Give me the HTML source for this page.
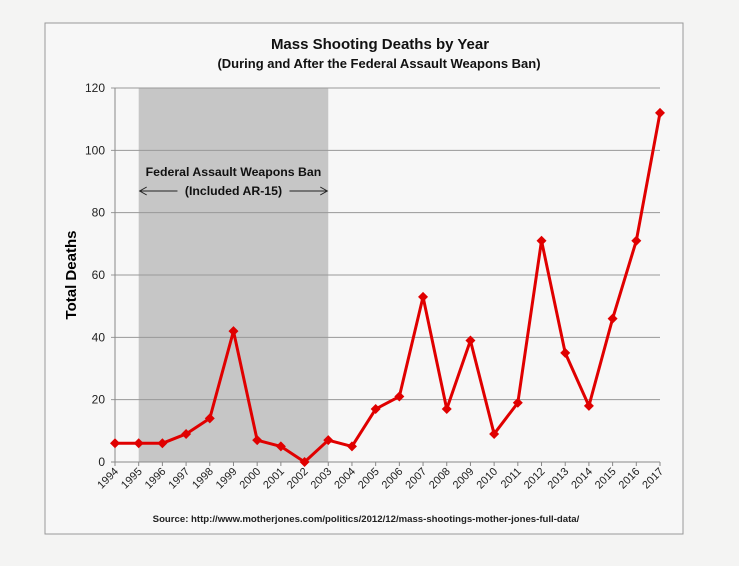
<!DOCTYPE html>
<html><head><meta charset="utf-8"><style>
body{margin:0;background:#f4f4f3;}
svg{display:block;font-family:"Liberation Sans Narrow","Liberation Sans",sans-serif;}
</style></head><body>
<svg width="739" height="566" viewBox="0 0 739 566">
<rect x="45" y="23" width="638" height="511" fill="#f7f7f7" stroke="#999" stroke-width="1"/>
<text x="380" y="49" text-anchor="middle" font-size="15" font-weight="bold" fill="#111">Mass Shooting Deaths by Year</text>
<text x="379" y="68" text-anchor="middle" font-size="13" font-weight="bold" fill="#111">(During and  After the Federal Assault Weapons  Ban)</text>
<g id="plot"></g>
<text transform="translate(76,275) rotate(-90)" text-anchor="middle" font-size="15" font-weight="bold" fill="#000">Total Deaths</text>
<text x="366" y="522" text-anchor="middle" font-size="9.6" font-weight="bold" fill="#222">Source:  http://www.motherjones.com/politics/2012/12/mass-shootings-mother-jones-full-data/</text>
</svg>
<script>
const years=[1994,1995,1996,1997,1998,1999,2000,2001,2002,2003,2004,2005,2006,2007,2008,2009,2010,2011,2012,2013,2014,2015,2016,2017];
const deaths=[6,6,6,9,14,42,7,5,0,7,5,17,21,53,17,39,9,19,71,35,18,46,71,112];
const yTicks=[0,20,40,60,80,100,120];
const banStart=1995, banEnd=2003;
const NS="http://www.w3.org/2000/svg";
const g=document.getElementById('plot');
const x0=115,x1=660,y0=462,y1=88;
const xs=i=>x0+i*(x1-x0)/(years.length-1);
const xy=yr=>xs(years.indexOf(yr));
const ys=v=>y0-(v/120)*(y0-y1);
function mk(t,a){const e=document.createElementNS(NS,t);for(const k in a)e.setAttribute(k,a[k]);g.appendChild(e);return e;}
let r=mk('rect',{x:xy(banStart),y:y1,width:xy(banEnd)-xy(banStart),height:y0-y1,fill:'#c6c6c6'});


yTicks.forEach(v=>{
 let l=mk('line',{x1:x0-4,x2:x1,y1:ys(v),y2:ys(v),stroke:v===0?'#888':'#999','stroke-width':1});
 
 
 let t=mk('text',{x:x0-10,y:ys(v)+4,'text-anchor':'end','font-size':12,fill:'#222'});
 t.textContent=v;
 
 
});
let ax=mk('line',{x1:x0,x2:x0,y1:y1,y2:y0,stroke:'#888'});


years.forEach((yr,i)=>{
 let tk=mk('line',{x1:xs(i),x2:xs(i),y1:y0,y2:y0+4,stroke:'#888'});
 
 
 let t=mk('text',{x:0,y:0,'text-anchor':'end','font-size':11,fill:'#222',transform:`translate(${xs(i)+4},${y0+10}) rotate(-45)`});
 t.textContent=yr;
 
 
});
let pts=deaths.map((v,i)=>xs(i)+','+ys(v)).join(' ');
let pl=mk('polyline',{points:pts,fill:'none',stroke:'#e00000','stroke-width':3,'stroke-linejoin':'round'});


deaths.forEach((v,i)=>{
 const cx=xs(i),cy=ys(v);
 let m=mk('polygon',{points:`${cx},${cy-5} ${cx+5},${cy} ${cx},${cy+5} ${cx-5},${cy}`,fill:'#e00000'});
 
 
});
const cx=(xy(banStart)+xy(banEnd))/2;
let a1=mk('text',{x:cx,y:176,'text-anchor':'middle','font-size':12.3,'font-weight':'bold',fill:'#111'});
a1.textContent='Federal Assault Weapons Ban';


let a2=mk('text',{x:cx,y:195,'text-anchor':'middle','font-size':12.3,'font-weight':'bold',fill:'#111'});
a2.textContent='(Included AR-15)';


[[xy(banStart)+1,cx-56],[xy(banEnd)-1,cx+56]].forEach(([tip,end],k)=>{
 let l=mk('line',{x1:tip,x2:end,y1:191,y2:191,stroke:'#222','stroke-width':1});
 
 
 const d=k===0?1:-1;
 let h=mk('polyline',{points:`${tip+d*7},187 ${tip},191 ${tip+d*7},195`,fill:'none',stroke:'#222'});
 
 
});
</script>
</body></html>
